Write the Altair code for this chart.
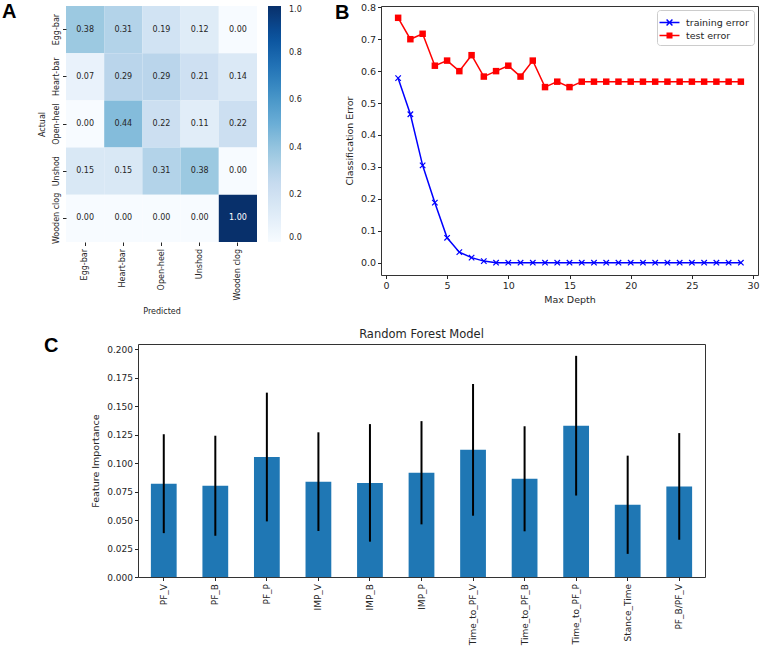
import altair as alt
import pandas as pd

FONT = "DejaVu Sans"
INK = "#262626"

# ---------------- Panel A: confusion matrix ----------------
classes = ["Egg-bar", "Heart-bar", "Open-heel", "Unshod", "Wooden clog"]
row_egg_bar = [0.38, 0.31, 0.19, 0.12, 0.00]
row_heart_bar = [0.07, 0.29, 0.29, 0.21, 0.14]
row_open_heel = [0.00, 0.44, 0.22, 0.11, 0.22]
row_unshod = [0.15, 0.15, 0.31, 0.38, 0.00]
row_wooden_clog = [0.00, 0.00, 0.00, 0.00, 1.00]
colorbar_ticks = [0.0, 0.2, 0.4, 0.6, 0.8, 1.0]
blues_stops = [0.0, 0.125, 0.25, 0.375, 0.5, 0.625, 0.75, 0.875, 1.0]
blues_colors = ["#f7fbff", "#deebf7", "#c6dbef", "#9ecae1", "#6baed6",
                "#4292c6", "#2171b5", "#08519c", "#08306b"]

# ---------------- Panel B: error vs depth ----------------
max_depth = [1, 2, 3, 4, 5, 6, 7, 8, 9, 10, 11, 12, 13, 14, 15, 16, 17, 18, 19,
             20, 21, 22, 23, 24, 25, 26, 27, 28, 29]
training_error = [0.578, 0.465, 0.305, 0.188, 0.078, 0.033, 0.016, 0.005, 0.0,
                  0.0, 0.0, 0.0, 0.0, 0.0, 0.0, 0.0, 0.0, 0.0, 0.0, 0.0, 0.0,
                  0.0, 0.0, 0.0, 0.0, 0.0, 0.0, 0.0, 0.0]
test_error = [0.767, 0.700, 0.717, 0.617, 0.633, 0.600, 0.650, 0.583, 0.600,
              0.617, 0.583, 0.633, 0.550, 0.567, 0.550, 0.567, 0.567, 0.567,
              0.567, 0.567, 0.567, 0.567, 0.567, 0.567, 0.567, 0.567, 0.567,
              0.567, 0.567]
series_names = ["training error", "test error"]
depth_ticks = [0, 5, 10, 15, 20, 25, 30]
error_ticks = [0.0, 0.1, 0.2, 0.3, 0.4, 0.5, 0.6, 0.7, 0.8]

# ---------------- Panel C: feature importance ----------------
features = ["PF_V", "PF_B", "PF_P", "IMP_V", "IMP_B", "IMP_P", "Time_to_PF_V",
            "Time_to_PF_B", "Time_to_PF_P", "Stance_Time", "PF_B/PF_V"]
importance = [0.0819, 0.0801, 0.1053, 0.0837, 0.0826, 0.0915, 0.1116, 0.0862,
              0.1328, 0.0634, 0.0795]
importance_std = [0.0434, 0.0439, 0.0565, 0.0433, 0.0516, 0.0453, 0.0578,
                  0.0461, 0.0613, 0.0431, 0.0468]
importance_ticks = [0.0, 0.025, 0.05, 0.075, 0.1, 0.125, 0.15, 0.175, 0.2]


def letter(ch, dx, dy):
    return alt.Chart(pd.DataFrame({"t": [ch]})).mark_text(
        align="left", baseline="top", fontSize=20, fontWeight="bold",
        font="Liberation Sans", color="black"
    ).encode(text="t:N", x=alt.value(dx), y=alt.value(dy))


# ---- A ----
cm_rows = [row_egg_bar, row_heart_bar, row_open_heel, row_unshod, row_wooden_clog]
cm_df = pd.DataFrame([
    {"actual": a, "predicted": p, "value": v}
    for a, row in zip(classes, cm_rows) for p, v in zip(classes, row)
])

base_a = alt.Chart(cm_df).encode(
    x=alt.X("predicted:N", sort=classes,
            scale=alt.Scale(paddingInner=0, paddingOuter=0),
            axis=alt.Axis(title="Predicted", labelAngle=-90, labelFontSize=8,
                          titleFontSize=8, labelPadding=3, titlePadding=8)),
    y=alt.Y("actual:N", sort=classes,
            scale=alt.Scale(paddingInner=0, paddingOuter=0),
            axis=alt.Axis(title="Actual", labelAngle=-90, labelAlign="center",
                          labelBaseline="bottom", labelFontSize=8,
                          titleFontSize=8, labelPadding=2, titlePadding=6)),
)
cells = base_a.mark_rect().encode(
    color=alt.Color("value:Q",
                    scale=alt.Scale(domain=blues_stops, range=blues_colors),
                    legend=alt.Legend(title=None, orient="right", direction="vertical",
                                      gradientLength=236, gradientThickness=13,
                                      offset=11, values=colorbar_ticks, format=".1f",
                                      labelFontSize=8, labelFont=FONT, labelColor=INK,
                                      labelOffset=8, labelBaseline="middle",
                                      gradientStrokeWidth=0))
)
cell_text = base_a.mark_text(fontSize=8, font=FONT).encode(
    text=alt.Text("value:Q", format=".2f"),
    color=alt.condition("datum.value > 0.5", alt.value("white"), alt.value(INK)),
)
chart_a = alt.layer(cells, cell_text, letter("A", -64, -3.8)).properties(
    width=191, height=236, view=alt.ViewBackground(stroke="transparent"))

# ---- B ----
err_df = pd.DataFrame({
    "depth": max_depth + max_depth,
    "error": training_error + test_error,
    "series": [series_names[0]] * len(max_depth) + [series_names[1]] * len(max_depth),
})
x_b = alt.X("depth:Q", scale=alt.Scale(domain=[-0.4, 30.4], nice=False, zero=False),
            axis=alt.Axis(title="Max Depth", values=depth_ticks, format="d",
                          labelFontSize=9.5, titleFontSize=9.5, titlePadding=4))
y_b = alt.Y("error:Q", scale=alt.Scale(domain=[-0.0385, 0.804], nice=False, zero=False),
            axis=alt.Axis(title="Classification Error", values=error_ticks, format=".1f",
                          labelFontSize=9.5, titleFontSize=9.5, titlePadding=6,
                          labelOverlap=False))

train_df = alt.Chart(err_df).transform_filter(alt.datum.series == series_names[0])
test_df = alt.Chart(err_df).transform_filter(alt.datum.series == series_names[1])

train_line = train_df.mark_line(color="blue", strokeWidth=1.5).encode(x=x_b, y=y_b)
train_pts = train_df.mark_point(shape="M-1,-1L1,1M-1,1L1,-1", filled=False, color="blue",
                                size=30, strokeWidth=1.2, opacity=1).encode(x=x_b, y=y_b)
test_line = test_df.mark_line(color="red", strokeWidth=1.5).encode(x=x_b, y=y_b)
test_pts = test_df.mark_point(shape="square", filled=True, color="red", size=42,
                              opacity=1).encode(x=x_b, y=y_b)

# legend glyphs: a line segment with the marker on it (filled outlines)
leg_paths = [
    "M-1.33,-0.1V0.1H1.33V-0.1Z"
    "M0,0.14L0.32,0.46L0.46,0.32L0.14,0L0.46,-0.32L0.32,-0.46L0,-0.14"
    "L-0.32,-0.46L-0.46,-0.32L-0.14,0L-0.46,0.32L-0.32,0.46Z",
    "M-1.33,-0.1H1.33V0.1H-1.33ZM-0.4,-0.4H0.4V0.4H-0.4Z",
]
leg_kw = dict(title=None, orient="top-right", offset=4, symbolSize=225,
              symbolStrokeWidth=0, labelFontSize=9.5, labelFont=FONT, labelColor=INK,
              padding=5, strokeColor="#cccccc", fillColor="white", cornerRadius=3,
              rowPadding=1, labelOffset=9, symbolOpacity=1)
legend_layer = alt.Chart(err_df).transform_filter("false").mark_point(
    filled=True, opacity=1
).encode(
    x=x_b, y=y_b,
    color=alt.Color("series:N", scale=alt.Scale(domain=series_names, range=["blue", "red"]),
                    legend=alt.Legend(**leg_kw)),
    shape=alt.Shape("series:N", scale=alt.Scale(domain=series_names, range=leg_paths),
                    legend=alt.Legend(**leg_kw)),
)
chart_b = alt.layer(train_line, train_pts, test_line, test_pts, legend_layer,
                    letter("B", -46, -2.8)).properties(width=377, height=269)

# ---- C ----
fi_df = pd.DataFrame({"feature": features, "importance": importance, "std": importance_std})
x_c = alt.X("feature:N", sort=features,
            scale=alt.Scale(paddingInner=0.5, paddingOuter=0.25),
            axis=alt.Axis(title=None, labelAngle=-90, labelFontSize=9, labelPadding=3))
y_scale_c = alt.Scale(domain=[0, 0.2045], nice=False)
y_axis_c = alt.Axis(title="Feature Importance", values=importance_ticks, format=".3f",
                    labelFontSize=9, titleFontSize=9.5, titlePadding=6,
                    labelOverlap=False)
bars = alt.Chart(fi_df).mark_bar(color="#1f77b4").encode(
    x=x_c, y=alt.Y("importance:Q", scale=y_scale_c, axis=y_axis_c))
errbars = alt.Chart(fi_df).transform_calculate(
    lo="datum.importance - datum.std", hi="datum.importance + datum.std"
).mark_rule(color="black", strokeWidth=2).encode(
    x=x_c, y=alt.Y("lo:Q", scale=y_scale_c, axis=y_axis_c), y2="hi:Q")
chart_c = alt.layer(bars, errbars).properties(
    width=567, height=233,
    title=alt.Title("Random Forest Model", fontSize=11.5, fontWeight="normal",
                    font=FONT, color=INK, offset=4))

# narrow blank column holding the panel letter C
spacer = letter("C", -22, -8.5).properties(
    width=23, height=10, view=alt.ViewBackground(stroke="transparent"))

top = alt.hconcat(chart_a, chart_b, spacing=124, bounds="flush").resolve_scale(
    color="independent", shape="independent"
).resolve_legend(color="independent", shape="independent")
bottom = alt.hconcat(spacer, chart_c, spacing=0)

chart = alt.vconcat(top, bottom, spacing=11).resolve_scale(
    color="independent", shape="independent"
).resolve_legend(color="independent", shape="independent").properties(
    padding={"left": 1, "top": 1, "right": 0, "bottom": 0}
).configure(font=FONT).configure_axis(
    labelFont=FONT, titleFont=FONT, titleFontWeight="normal", labelColor=INK,
    titleColor=INK, tickColor=INK, domain=False, grid=False, tickSize=3.5
).configure_view(stroke="#333333", strokeWidth=1)

chart.save("out.html", embed_options={"renderer": "svg", "actions": False})
